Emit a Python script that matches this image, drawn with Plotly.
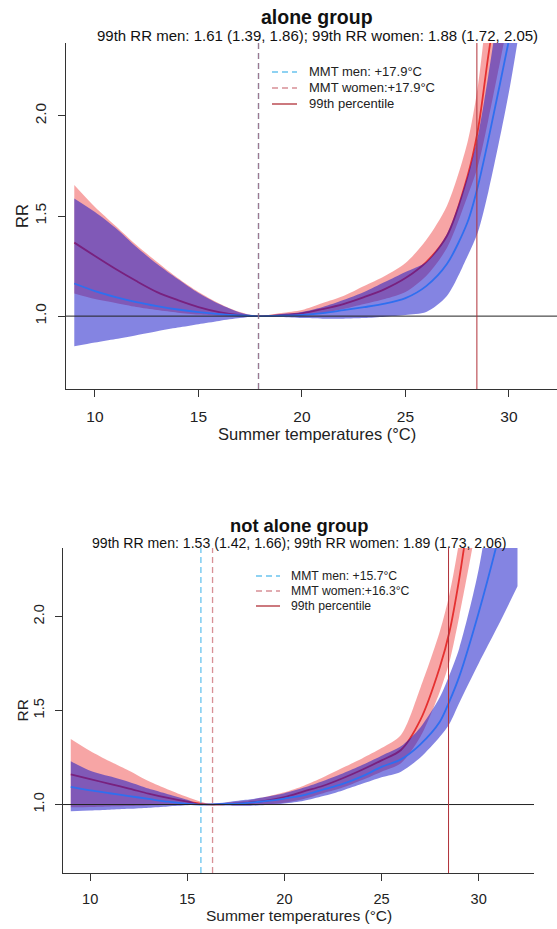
import plotly.graph_objects as go

W, H = 557, 929

# ---------------- data ----------------
titles = ["alone group", "not alone group"]
subtitles = [
    "99th RR men: 1.61 (1.39, 1.86); 99th RR women: 1.88 (1.72, 2.05)",
    "99th RR men: 1.53 (1.42, 1.66); 99th RR women: 1.89 (1.73, 2.06)",
]
mmt_men = [17.9, 15.7]
mmt_women = [17.9, 16.3]
pct99 = [28.45, 28.45]
x_ticks = [10, 15, 20, 25, 30]
y_ticks = [1.0, 1.5, 2.0]

# alone group
temp_alone = [9, 10, 11, 12, 13, 14, 15, 16, 17, 17.9, 19, 20, 21, 22, 23, 24, 25, 26, 27, 28, 28.5, 29, 30, 31]
men_alone = [1.163, 1.125, 1.095, 1.07, 1.05, 1.033, 1.02, 1.01, 1.003, 1.0, 1.002, 1.006, 1.015, 1.03, 1.045, 1.062,
             1.09, 1.15, 1.26, 1.47, 1.65, 1.88, 2.38, 2.9]
men_alone_hi = [1.588, 1.52, 1.44, 1.345, 1.26, 1.185, 1.115, 1.06, 1.018, 1.0, 1.01, 1.02, 1.045, 1.08, 1.12, 1.17,
                1.22, 1.27, 1.41, 1.7, 1.9, 2.2, 2.9, 3.6]
men_alone_lo = [0.85, 0.868, 0.886, 0.905, 0.925, 0.943, 0.96, 0.976, 0.99, 1.0, 0.995, 0.99, 0.987, 0.987, 0.99, 0.997,
                1.005, 1.02, 1.1, 1.3, 1.42, 1.62, 2.12, 2.75]
women_alone = [1.367, 1.3, 1.235, 1.175, 1.12, 1.08, 1.045, 1.02, 1.005, 1.0, 1.005, 1.014, 1.035, 1.06, 1.095, 1.135,
               1.19, 1.27, 1.4, 1.7, 1.93, 2.3, 3.0, 3.8]
women_alone_hi = [1.655, 1.545, 1.45, 1.355, 1.27, 1.19, 1.12, 1.063, 1.02, 1.0, 1.015, 1.03, 1.065, 1.1, 1.15, 1.2,
                  1.265, 1.38, 1.55, 1.87, 2.15, 2.6, 3.5, 4.4]
women_alone_lo = [1.113, 1.085, 1.065, 1.045, 1.03, 1.017, 1.008, 1.003, 1.001, 1.0, 1.0, 1.003, 1.015, 1.035, 1.06,
                  1.085, 1.12, 1.2, 1.34, 1.6, 1.75, 1.98, 2.5, 3.1]

# not alone group
temp_notalone = [9, 10, 11, 12, 13, 14, 15, 15.7, 16.3, 17, 18, 19, 20, 21, 22, 23, 24, 25, 26, 27, 28, 28.5, 29, 30,
                 31, 32]
men_notalone = [1.094, 1.075, 1.06, 1.045, 1.03, 1.015, 1.004, 1.0, 1.001, 1.003, 1.008, 1.018, 1.032, 1.05, 1.08,
                1.11, 1.15, 1.2, 1.24, 1.32, 1.44, 1.55, 1.68, 2.02, 2.41, 2.85]
men_notalone_hi = [1.23, 1.18, 1.15, 1.12, 1.085, 1.055, 1.025, 1.0, 1.004, 1.012, 1.025, 1.04, 1.06, 1.09, 1.125,
                   1.165, 1.21, 1.26, 1.31, 1.41, 1.57, 1.69, 1.83, 2.25, 2.9, 3.6]
men_notalone_lo = [0.964, 0.968, 0.972, 0.977, 0.983, 0.99, 0.996, 1.0, 0.998, 0.995, 0.993, 0.997, 1.005, 1.02,
                   1.045, 1.075, 1.11, 1.145, 1.175, 1.25, 1.36, 1.43, 1.54, 1.75, 1.95, 2.16]
women_notalone = [1.16, 1.135, 1.11, 1.085, 1.058, 1.035, 1.015, 1.004, 1.0, 1.002, 1.008, 1.02, 1.04, 1.07, 1.1,
                  1.14, 1.185, 1.235, 1.29, 1.45, 1.73, 1.92, 2.2, 2.9, 3.6, 4.4]
women_notalone_hi = [1.349, 1.285, 1.23, 1.18, 1.125, 1.08, 1.04, 1.015, 1.0, 1.01, 1.02, 1.04, 1.065, 1.1, 1.145,
                     1.195, 1.245, 1.3, 1.37, 1.62, 1.92, 2.12, 2.4, 3.1, 3.9, 4.8]
women_notalone_lo = [0.985, 0.987, 0.99, 0.992, 0.995, 0.997, 0.998, 0.999, 1.0, 0.998, 0.996, 1.0, 1.01, 1.03, 1.06,
                     1.09, 1.13, 1.175, 1.22, 1.36, 1.6, 1.76, 2.0, 2.55, 3.2, 3.9]

# ---------------- style ----------------
FONT = "Liberation Sans, Arial, sans-serif"
BLUE_BAND = "rgba(20,20,200,0.52)"
PINK_BAND = "rgba(235,40,40,0.42)"
BLUE_LINE = "#2f6fef"
RED_LINE = "#e53030"
MMT_MEN_COL = "rgba(40,170,230,0.7)"
MMT_WOMEN_COL = "rgba(190,70,80,0.6)"
P99_COL = "#b03038"
AX_COL = "#333333"
SMOOTH = 0.8


def px(xp):
    return xp / W


def py(yp):
    return 1 - yp / H


panels = [
    dict(t=temp_alone, m=men_alone, mlo=men_alone_lo, mhi=men_alone_hi,
         w=women_alone, wlo=women_alone_lo, whi=women_alone_hi,
         dx=(66, 557), dy=(43, 389), xr=(8.6, 32.32), s=1.0,
         title_y=17, sub_y=36, tcx=317,
         leg_x=(272, 297, 307), leg_y=(72, 88, 104), xt_y=434, rr_x=22),
    dict(t=temp_notalone, m=men_notalone, mlo=men_notalone_lo, mhi=men_notalone_hi,
         w=women_notalone, wlo=women_notalone_lo, whi=women_notalone_hi,
         dx=(63, 534), dy=(548, 873), xr=(8.6, 32.85), s=0.94,
         title_y=525, sub_y=543, tcx=298.5,
         leg_x=(256, 280, 289), leg_y=(576, 591, 606), xt_y=915, rr_x=22),
]

fig = go.Figure()
shapes = []
annotations = []

for i, p in enumerate(panels):
    xa = "x" if i == 0 else "x2"
    ya = "y" if i == 0 else "y2"
    t = p["t"]
    # women band + line
    fig.add_trace(go.Scatter(x=t, y=p["wlo"], mode="lines", line=dict(width=0, shape="spline", smoothing=SMOOTH),
                             xaxis=xa, yaxis=ya, showlegend=False, hoverinfo="skip"))
    fig.add_trace(go.Scatter(x=t, y=p["whi"], mode="lines", line=dict(width=0, shape="spline", smoothing=SMOOTH),
                             fill="tonexty", fillcolor=PINK_BAND, xaxis=xa, yaxis=ya, showlegend=False,
                             hoverinfo="skip"))
    fig.add_trace(go.Scatter(x=t, y=p["w"], mode="lines",
                             line=dict(color=RED_LINE, width=1.8, shape="spline", smoothing=SMOOTH),
                             xaxis=xa, yaxis=ya, showlegend=False))
    # men band + line
    fig.add_trace(go.Scatter(x=t, y=p["mlo"], mode="lines", line=dict(width=0, shape="spline", smoothing=SMOOTH),
                             xaxis=xa, yaxis=ya, showlegend=False, hoverinfo="skip"))
    fig.add_trace(go.Scatter(x=t, y=p["mhi"], mode="lines", line=dict(width=0, shape="spline", smoothing=SMOOTH),
                             fill="tonexty", fillcolor=BLUE_BAND, xaxis=xa, yaxis=ya, showlegend=False,
                             hoverinfo="skip"))
    fig.add_trace(go.Scatter(x=t, y=p["m"], mode="lines",
                             line=dict(color=BLUE_LINE, width=1.8, shape="spline", smoothing=SMOOTH),
                             xaxis=xa, yaxis=ya, showlegend=False))

    xref_dom = xa + " domain"
    yref_dom = ya + " domain"
    # reference line RR = 1
    shapes.append(dict(type="line", xref=xref_dom, x0=0, x1=1, yref=ya, y0=1, y1=1,
                       line=dict(color="#222222", width=1), layer="above"))
    # MMT lines
    shapes.append(dict(type="line", xref=xa, x0=mmt_men[i], x1=mmt_men[i], yref=yref_dom, y0=0, y1=1,
                       line=dict(color=MMT_MEN_COL, width=1.3, dash="6px,4px"), layer="above"))
    shapes.append(dict(type="line", xref=xa, x0=mmt_women[i], x1=mmt_women[i], yref=yref_dom, y0=0, y1=1,
                       line=dict(color=MMT_WOMEN_COL, width=1.3, dash="6px,4px"), layer="above"))
    # 99th percentile
    shapes.append(dict(type="line", xref=xa, x0=pct99[i], x1=pct99[i], yref=yref_dom, y0=0, y1=1,
                       line=dict(color=P99_COL, width=1), layer="above"))

    s = p["s"]
    # titles
    annotations.append(dict(text="<b>%s</b>" % titles[i], xref="paper", yref="paper", x=px(p["tcx"]),
                            y=py(p["title_y"]), xanchor="center", yanchor="middle", showarrow=False,
                            font=dict(family=FONT, size=19.5 * s, color="#111")))
    annotations.append(dict(text=subtitles[i], xref="paper", yref="paper", x=px(p["tcx"]),
                            y=py(p["sub_y"]), xanchor="center", yanchor="middle", showarrow=False,
                            font=dict(family=FONT, size=15 * s, color="#111")))
    # axis titles
    annotations.append(dict(text="RR", xref="paper", yref="paper", x=px(p["rr_x"]),
                            y=py((p["dy"][0] + p["dy"][1]) / 2), xanchor="center", yanchor="middle",
                            textangle=-90, showarrow=False, font=dict(family=FONT, size=16.5 * s, color="#222")))
    annotations.append(dict(text="Summer temperatures (°C)", xref="paper", yref="paper",
                            x=px((p["dx"][0] + p["dx"][0] + 502 * s) / 2), y=py(p["xt_y"]),
                            xanchor="center", yanchor="middle", showarrow=False,
                            font=dict(family=FONT, size=16.5 * s, color="#222")))
    # legend
    leg_items = [
        ("MMT men: +%.1f°C" % mmt_men[i], MMT_MEN_COL, "6px,4px"),
        ("MMT women:+%.1f°C" % mmt_women[i], MMT_WOMEN_COL, "6px,4px"),
        ("99th percentile", P99_COL, "solid"),
    ]
    lx0, lx1, ltx = p["leg_x"]
    for (txt, col, dash), ly in zip(leg_items, p["leg_y"]):
        shapes.append(dict(type="line", xref="paper", yref="paper", x0=px(lx0), x1=px(lx1), y0=py(ly), y1=py(ly),
                           line=dict(color=col, width=1.3, dash=dash)))
        annotations.append(dict(text=txt, xref="paper", yref="paper", x=px(ltx), y=py(ly), xanchor="left",
                                yanchor="middle", showarrow=False,
                                font=dict(family=FONT, size=13 * s, color="#222")))

    ax_common = dict(showgrid=False, zeroline=False, showline=True, linecolor=AX_COL, linewidth=1,
                     ticks="outside", ticklen=7 * s, tickcolor=AX_COL, tickwidth=1,
                     tickfont=dict(family=FONT, size=15.5 * s, color="#222"), automargin=False)
    xkey = "xaxis" if i == 0 else "xaxis2"
    ykey = "yaxis" if i == 0 else "yaxis2"
    fig.update_layout(**{
        xkey: dict(domain=[px(p["dx"][0]), px(p["dx"][1])], range=list(p["xr"]), tickvals=x_ticks,
                   anchor=ya, ticklabelstandoff=6, **ax_common),
        ykey: dict(domain=[py(p["dy"][1]), py(p["dy"][0])], range=[0.636, 2.364], tickvals=y_ticks,
                   tickformat=".1f", tickangle=-90, anchor=xa, ticklabelstandoff=6, **ax_common),
    })

fig.update_layout(width=W, height=H, margin=dict(l=0, r=0, t=0, b=0), paper_bgcolor="white",
                  plot_bgcolor="white", showlegend=False, shapes=shapes, annotations=annotations)
fig.write_html("out.html")
